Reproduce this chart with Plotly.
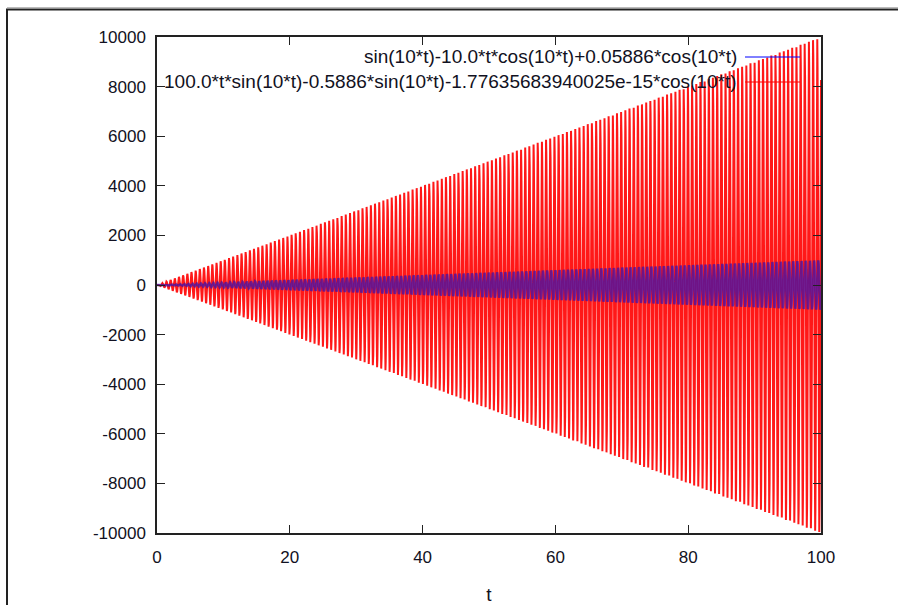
import numpy as np
import plotly.graph_objects as go

# NOTE: unlike a chart of measured values, this reference plots two analytic
# functions whose exact expressions are printed in its legend. Their ~160
# oscillations each cannot be read point by point from the pixels, so the two
# series below are evaluated from those legend formulas (coefficients kept as
# named constants) instead of being transcribed from the picture.
t_range = [0, 100]
n_samples = 5000
omega = 10.0
# series 1: sin(10t) - 10.0*t*cos(10t) + 0.05886*cos(10t)
s1_sin = 1.0
s1_tcos = -10.0
s1_cos = 0.05886
# series 2: 100.0*t*sin(10t) - 0.5886*sin(10t) - 1.776e-15*cos(10t)
s2_tsin = 100.0
s2_sin = -0.5886
s2_cos = -1.77635683940025e-15

label1 = "sin(10*t)-10.0*t*cos(10*t)+0.05886*cos(10*t)"
label2 = "100.0*t*sin(10*t)-0.5886*sin(10*t)-1.77635683940025e-15*cos(10*t)"
x_ticks = [0, 20, 40, 60, 80, 100]
y_ticks = [-10000, -8000, -6000, -4000, -2000, 0, 2000, 4000, 6000, 8000, 10000]

t = np.linspace(t_range[0], t_range[1], n_samples)
y1 = s1_sin * np.sin(omega * t) + s1_tcos * t * np.cos(omega * t) + s1_cos * np.cos(omega * t)
y2 = s2_tsin * t * np.sin(omega * t) + s2_sin * np.sin(omega * t) + s2_cos * np.cos(omega * t)

fig = go.Figure()
fig.add_trace(go.Scatter(x=t, y=y2, mode="lines", line=dict(color="#ff0000", width=2),
                         opacity=0.9, name=label2, showlegend=False))
fig.add_trace(go.Scatter(x=t, y=y1, mode="lines", line=dict(color="#1010d0", width=2.5),
                         opacity=0.6, name=label1, showlegend=False))

font = dict(family="Liberation Sans, Arial, sans-serif", size=17, color="#111122")
legend_font = dict(family="Liberation Sans, Arial, sans-serif", size=19, color="#111122")

L, R, T, B = 157, 821, 37, 533
W, H = 898, 605
pw, ph = R - L, B - T
def px(x):
    return (x - L) / pw
def py(y):
    return 1 - (y - T) / ph

shapes = [
    # window frame (left and top)
    dict(type="path", xref="paper", yref="paper",
         path=f"M {px(7)} {py(700)} L {px(7)} {py(9.5)} L {px(950)} {py(9.5)}",
         line=dict(color="#222222", width=2)),
    dict(type="line", xref="paper", yref="paper", x0=px(7), x1=px(950), y0=py(7.5), y1=py(7.5),
         line=dict(color="#bbbbbb", width=1)),
    # legend samples
    dict(type="line", xref="paper", yref="paper", x0=px(745), x1=px(800), y0=py(57), y1=py(57),
         line=dict(color="#0000ff", width=1)),
    dict(type="line", xref="paper", yref="paper", x0=px(745), x1=px(800), y0=py(82), y1=py(82),
         line=dict(color="#ff0000", width=1)),
]
annotations = [
    dict(xref="paper", yref="paper", x=px(739), y=py(57), text=label1, showarrow=False,
         xanchor="right", yanchor="middle", font=legend_font),
    dict(xref="paper", yref="paper", x=px(739), y=py(82), text=label2, showarrow=False,
         xanchor="right", yanchor="middle", font=legend_font),
]

fig.update_layout(
    width=W, height=H,
    margin=dict(l=L, r=W - R, t=T, b=H - B),
    paper_bgcolor="white", plot_bgcolor="white",
    shapes=shapes, annotations=annotations,
    font=font,
)
fig.update_xaxes(range=t_range, tickvals=x_ticks, ticktext=[str(v) for v in x_ticks],
                 ticks="inside", ticklen=8, tickcolor="#222", ticklabelstandoff=8,
                 showline=True, linecolor="#222", linewidth=1.5, mirror="ticks",
                 showgrid=False, zeroline=False, automargin=False,
                 title=dict(text="t", font=legend_font, standoff=22))
fig.update_yaxes(range=[-10000, 10000], tickvals=y_ticks, ticktext=[str(v) for v in y_ticks],
                 ticks="inside", ticklen=8, tickcolor="#222", ticklabelstandoff=6,
                 showline=True, linecolor="#222", linewidth=1.5, mirror="ticks",
                 showgrid=False, zeroline=False, automargin=False)

fig.write_html("out.html")
